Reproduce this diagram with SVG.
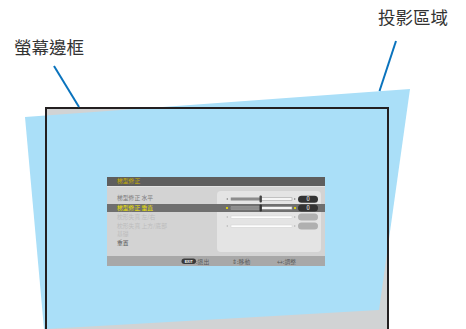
<svg xmlns="http://www.w3.org/2000/svg" width="466" height="329" viewBox="0 0 466 329">
<style>
.lbl{font-family:"Noto Sans CJK TC","Noto Sans CJK SC",sans-serif;font-size:17.5px;fill:#333}
.m{font-family:"Noto Sans CJK TC","Noto Sans CJK SC",sans-serif;font-size:5.8px}
.lead{stroke:#0a73bd;stroke-width:2;fill:none}
.bar{fill:#fff;stroke:#9a9a9a;stroke-width:0.6}
.arr{fill:#8a8a8a}
</style>
<rect width="466" height="329" fill="#fff"/>
<g id="screen">
<rect x="46" y="108" width="342" height="230" fill="#d1d3d4"/>
</g>
<g id="projection">
<polygon points="25,117 410,89 379,310 46,329 44,329" fill="#aadff8"/>
</g>
<g id="frame">
<rect x="46" y="108" width="342" height="230" fill="none" stroke="#231f20" stroke-width="2"/>
</g>
<g id="menu">
<rect x="107" y="177" width="218" height="89" fill="#d3d3d3"/>
<rect x="107" y="177" width="218" height="9" fill="#5e5e5e"/>
<rect x="107" y="186" width="218" height="0.8" fill="#e8e8e8"/>
<text class="m" x="117" y="183" fill="#c9b000">梯型修正</text>
<rect x="217" y="191" width="104" height="61" rx="4" fill="#e4e4e4"/>
<rect x="107" y="204" width="218" height="8" fill="#6f6f6f"/>
<text class="m" x="117" y="200" fill="#7a7a7a">梯型修正 水平</text>
<text class="m" x="117" y="210" fill="#f2e600">梯型修正 垂直</text>
<text class="m" x="117" y="219" fill="#bdbdbd">枕形失真 左/右</text>
<text class="m" x="117" y="227.5" fill="#bdbdbd">枕形失真 上方/底部</text>
<text class="m" x="117" y="236" fill="#bdbdbd">基礎</text>
<text class="m" x="117" y="245" fill="#555">重置</text>
<!-- slider row 1 -->
<polygon class="arr" points="226,199 228,198 228,200"/>
<rect class="bar" x="231" y="197.8" width="61" height="2.4"/>
<rect x="231" y="197.8" width="29" height="2.4" fill="#8c8c8c"/>
<rect x="259.5" y="195.5" width="2.4" height="7" rx="1" fill="#444"/>
<polygon class="arr" points="296,199 294,198 294,200"/>
<rect x="298" y="195.8" width="20" height="7" rx="3.5" fill="#333"/>
<text class="m" x="308" y="201.3" fill="#fff" text-anchor="middle">0</text>
<!-- slider row 2 -->
<circle cx="227" cy="208" r="1.1" fill="#f2e600"/>
<rect class="bar" x="231" y="206.8" width="61" height="2.4"/>
<rect x="231" y="206.8" width="29" height="2.4" fill="#8c8c8c"/>
<rect x="259.5" y="204.5" width="2.4" height="7" rx="1" fill="#333"/>
<circle cx="295" cy="208" r="1.1" fill="#f2e600"/>
<rect x="298" y="204.6" width="20" height="7" rx="3.5" fill="#333"/>
<text class="m" x="308" y="210.1" fill="#fff" text-anchor="middle">0</text>
<!-- slider row 3 -->
<polygon fill="#bbb" points="226,217 228,216 228,218"/>
<rect x="231" y="216" width="61" height="2.2" fill="#fff" stroke="#d0d0d0" stroke-width="0.5"/>
<polygon fill="#bbb" points="296,217 294,216 294,218"/>
<rect x="298" y="213.6" width="20" height="7" rx="3.5" fill="#b0b0b0"/>
<!-- slider row 4 -->
<polygon fill="#bbb" points="226,226 228,225 228,227"/>
<rect x="231" y="225" width="61" height="2.2" fill="#fff" stroke="#d0d0d0" stroke-width="0.5"/>
<polygon fill="#bbb" points="296,226 294,225 294,227"/>
<rect x="298" y="222.6" width="20" height="7" rx="3.5" fill="#b0b0b0"/>
<!-- footer -->
<rect x="107" y="256" width="218" height="10" fill="#a8a8a8"/>
<rect x="181.5" y="258.5" width="14.5" height="5.5" rx="2.75" fill="#3a3a3a"/>
<text x="188.7" y="262.6" text-anchor="middle" font-family="Liberation Sans,sans-serif" font-size="3.6" font-weight="bold" fill="#fff">EXIT</text>
<text class="m" x="196" y="263.5" fill="#5a5a5a">:退出</text>
<text class="m" x="232" y="263.5" fill="#5a5a5a">⇕:移動</text>
<text class="m" x="277" y="263.5" fill="#5a5a5a">↔:調整</text>
</g>
<g id="label-frame">
<text class="lbl" x="14" y="54">螢幕邊框</text>
</g>
<g id="label-projection">
<text class="lbl" x="378" y="24">投影區域</text>
</g>
<g id="connectors">
<line class="lead" x1="54" y1="66" x2="79" y2="107"/>
<line class="lead" x1="396" y1="41" x2="379.5" y2="91"/>
</g>
</svg>
